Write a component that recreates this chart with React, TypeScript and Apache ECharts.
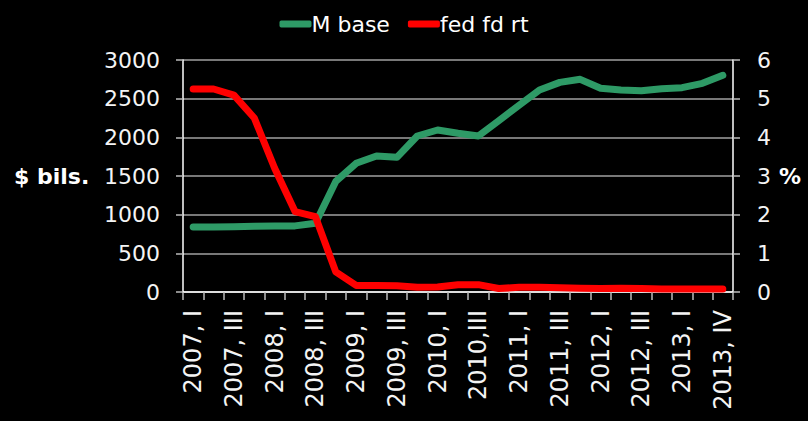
import React, { useEffect, useRef } from "react";
import * as echarts from "echarts";

const categories = [
  "2007, I", "2007, II", "2007, III", "2007, IV",
  "2008, I", "2008, II", "2008, III", "2008, IV",
  "2009, I", "2009, II", "2009, III", "2009, IV",
  "2010, I", "2010, II", "2010,III", "2010, IV",
  "2011, I", "2011, II", "2011, III", "2011, IV",
  "2012, I", "2012, II", "2012, III", "2012, IV",
  "2013, I", "2013, II", "2013, IV",
];

const mBase = [
  840, 842, 845, 850, 852, 855, 888, 1430, 1664, 1759, 1741, 2017, 2095, 2052,
  2017, 2215, 2414, 2612, 2711, 2750, 2634, 2612, 2603, 2629, 2642, 2698, 2802,
];

const fedFdRt = [
  5.25, 5.25, 5.09, 4.5, 3.2, 2.08, 1.95, 0.52, 0.17, 0.17, 0.16, 0.12, 0.13,
  0.19, 0.19, 0.09, 0.12, 0.12, 0.11, 0.1, 0.09, 0.1, 0.09, 0.08, 0.08, 0.08, 0.08,
];

const leftTicks = { min: 0, max: 3000, interval: 500 };
const rightTicks = { min: 0, max: 6, interval: 1 };

const FONT = "DejaVu Sans";

export default function App() {
  const ref = useRef<HTMLDivElement>(null);
  useEffect(() => {
    if (!ref.current) return;
    const chart = echarts.init(ref.current, undefined, { renderer: "svg" });
    chart.setOption({
      animation: false,
      backgroundColor: "#000000",
      textStyle: { fontFamily: FONT },
      legend: {
        top: 8,
        left: "center",
        itemWidth: 32,
        itemHeight: 7,
        itemGap: 18,
        icon: "roundRect",
        textStyle: { color: "#ffffff", fontSize: 22, fontFamily: FONT, padding: [0, 0, 0, -5] },
        data: ["M base", "fed fd rt"],
      },
      grid: { left: 183, right: 75, top: 60, bottom: 129, containLabel: false },
      xAxis: {
        type: "category",
        data: categories,
        boundaryGap: true,
        axisLine: { show: true, lineStyle: { color: "#ffffff", width: 1.5 } },
        axisTick: { show: true, interval: 0, length: 8, lineStyle: { color: "#bbbbbb", width: 1.5 } },
        axisLabel: {
          interval: 1,
          rotate: 90,
          color: "#f4f4f4",
          fontSize: 24,
          fontFamily: FONT,
          margin: 18,
        },
        splitLine: { show: false },
      },
      yAxis: [
        {
          type: "value",
          ...leftTicks,
          position: "left",
          axisLine: { show: true, lineStyle: { color: "#ffffff", width: 1.5 } },
          axisTick: { show: true, length: 7, lineStyle: { color: "#bbbbbb", width: 1.5 } },
          axisLabel: {
            color: "#f4f4f4",
            fontSize: 22,
            fontFamily: FONT,
            margin: 23,
            formatter: (v: number) => String(v),
          },
          splitLine: { show: true, lineStyle: { color: "#a0a0a0", width: 1.5 } },
        },
        {
          type: "value",
          ...rightTicks,
          position: "right",
          axisLine: { show: true, lineStyle: { color: "#ffffff", width: 1.5 } },
          axisTick: { show: true, length: 7, lineStyle: { color: "#bbbbbb", width: 1.5 } },
          axisLabel: {
            color: "#f4f4f4",
            fontSize: 22,
            fontFamily: FONT,
            margin: 24,
            formatter: (v: number) => String(v),
          },
          splitLine: { show: false },
        },
      ],
      graphic: [
        {
          type: "text",
          left: 14,
          top: 165,
          style: { text: "$ bils.", fill: "#ffffff", font: `bold 22px "${FONT}"` },
        },
        {
          type: "text",
          left: 779,
          top: 165,
          style: { text: "%", fill: "#ffffff", font: `bold 22px "${FONT}"` },
        },
      ],
      series: [
        {
          name: "M base",
          type: "line",
          yAxisIndex: 0,
          data: mBase,
          showSymbol: false,
          symbol: "none",
          color: "#2e9a66",
          lineStyle: { color: "#2e9a66", width: 7, cap: "round", join: "round" },
        },
        {
          name: "fed fd rt",
          type: "line",
          yAxisIndex: 1,
          data: fedFdRt,
          showSymbol: false,
          symbol: "none",
          color: "#ff0000",
          lineStyle: { color: "#ff0000", width: 7, cap: "round", join: "round" },
        },
      ],
    });
    return () => chart.dispose();
  }, []);
  return <div ref={ref} style={{ width: 808, height: 421, position: "absolute", left: 0, top: 0 }} />;
}
